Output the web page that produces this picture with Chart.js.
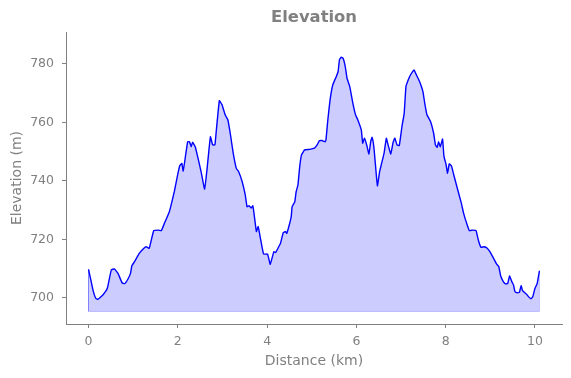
<!DOCTYPE html>
<html>
<head>
<meta charset="utf-8">
<script src="https://cdn.jsdelivr.net/npm/chart.js@4"></script>
<style>
  body { margin: 0; background: #fff; }
</style>
</head>
<body>
<canvas id="elev" width="571" height="378"></canvas>
<script>
// distance along the track (km) and elevation (m)
const dist = [0.00,0.10,0.16,0.21,0.32,0.42,0.51,0.58,0.66,0.75,0.81,0.88,0.94,0.97,1.03,1.14,1.24,1.29,1.36,1.46,
  1.57,1.63,1.70,1.81,1.86,1.92,1.98,2.04,2.09,2.12,2.17,2.22,2.26,2.30,2.33,2.39,2.47,2.52,2.60,2.66,
  2.73,2.78,2.83,2.86,2.93,2.99,3.06,3.12,3.18,3.24,3.31,3.36,3.44,3.51,3.55,3.60,3.64,3.68,3.71,3.76,
  3.80,3.85,3.92,4.01,4.07,4.15,4.19,4.26,4.30,4.36,4.41,4.44,4.49,4.54,4.56,4.62,4.65,4.69,4.73,4.77,
  4.84,4.95,5.06,5.12,5.17,5.23,5.30,5.32,5.36,5.41,5.47,5.55,5.59,5.62,5.66,5.70,5.75,5.79,5.85,5.92,
  5.98,6.03,6.11,6.14,6.18,6.23,6.28,6.32,6.35,6.39,6.43,6.47,6.52,6.55,6.62,6.67,6.71,6.77,6.82,6.86,
  6.91,6.96,7.02,7.07,7.11,7.16,7.21,7.29,7.32,7.38,7.43,7.49,7.53,7.58,7.66,7.73,7.77,7.81,7.84,7.88,
  7.93,7.96,8.01,8.04,8.08,8.13,8.18,8.26,8.35,8.40,8.47,8.53,8.61,8.68,8.73,8.79,8.86,8.93,8.99,9.07,
  9.14,9.19,9.23,9.29,9.34,9.39,9.43,9.48,9.52,9.55,9.60,9.65,9.69,9.72,9.80,9.87,9.91,9.95,10.00,10.05,10.10];
const elev = [709.8,702.7,699.9,699.5,701.0,703.3,709.6,709.9,708.4,705.2,704.9,706.4,708.4,711.0,712.4,715.3,717.0,717.5,717.0,723.0,
  723.2,723.0,725.5,729.5,732.4,736.3,740.9,745.1,746.0,743.4,748.3,753.4,753.4,751.7,753.2,751.7,746.6,743.2,737.2,744.9,
  755.1,752.3,752.3,756.9,767.4,766.0,762.6,760.9,755.7,749.5,744.3,743.2,739.8,735.2,731.2,731.5,730.7,731.5,728.4,722.7,
  724.4,720.4,715.0,715.0,711.5,715.8,715.5,717.5,718.7,722.3,722.7,722.1,724.6,727.8,731.2,732.9,736.3,738.6,744.9,748.9,
  750.6,750.8,751.2,752.3,753.7,753.8,753.4,754.3,760.9,767.7,772.8,775.7,777.4,781.4,782.3,782.0,779.1,775.1,772.3,766.6,
  762.6,760.9,757.4,752.9,754.6,752.3,749.2,753.4,754.9,751.7,744.9,738.3,743.2,745.1,749.5,754.6,752.3,749.2,753.1,754.6,
  752.3,752.1,758.6,763.1,772.3,774.5,776.2,777.9,777.0,775.1,773.4,770.5,766.6,762.6,760.3,756.3,752.3,751.5,753.4,751.7,
  754.3,748.5,745.5,742.6,745.8,745.1,742.1,737.5,732.4,729.0,725.5,723.0,723.2,723.0,719.8,717.3,717.5,717.0,715.8,713.6,
  711.6,710.7,707.6,705.6,704.8,705.0,707.5,705.6,704.4,702.2,701.8,701.9,704.2,702.5,701.4,700.2,699.7,700.4,703.3,705.0,709.3];
const base = 695.4;   // floor of the shaded area
const xTicks = [0, 2, 4, 6, 8, 10];
const yTicks = [700, 720, 740, 760, 780];

const grey = '#808080';
const font = 'DejaVu Sans';

const pts = dist.map((d, i) => ({x: d, y: elev[i]}));
const last = dist.length - 1;
const edge = [
  {x: dist[0], y: elev[0]}, {x: dist[0], y: base},
  {x: dist[last], y: base}, {x: dist[last], y: elev[last]}
];

new Chart(document.getElementById('elev'), {
  type: 'line',
  data: {
    datasets: [{
      data: pts,
      borderColor: '#0000ff',
      borderWidth: 1.4,
      backgroundColor: 'rgba(0,0,255,0.2)',
      fill: {value: base},
      pointRadius: 0,
      tension: 0.1
    }, {
      // outline of the shaded area
      data: edge,
      borderColor: 'rgba(0,0,255,0.2)',
      borderWidth: 1,
      fill: false,
      pointRadius: 0
    }]
  },
  options: {
    responsive: false,
    devicePixelRatio: 1,
    animation: false,
    layout: {padding: {left: 5, right: 9, top: 0, bottom: 4}},
    plugins: {legend: {display: false}, tooltip: {enabled: false}},
    scales: {
      x: {
        type: 'linear',
        min: -0.505, max: 10.605,
        afterBuildTicks: s => { s.ticks = xTicks.map(v => ({value: v})); },
        afterFit: s => { s.height = 50; },
        border: {display: true, color: grey, width: 1},
        grid: {display: true, drawOnChartArea: false, drawTicks: true, tickLength: 4, color: grey},
        ticks: {color: grey, padding: 6, font: {family: font, size: 12.5}},
        title: {display: true, text: 'Distance (km)', color: grey,
                font: {family: font, size: 14}, padding: {top: 3, bottom: 4}}
      },
      top: {
        type: 'linear',
        position: 'top',
        afterFit: s => { s.height = 32; },
        grid: {display: false},
        border: {display: false},
        ticks: {display: false},
        title: {display: true, text: 'Elevation', color: grey,
                font: {family: font, size: 16.4, weight: 'bold'}, padding: {top: 8, bottom: 4}}
      },
      y: {
        min: 691.1, max: 790.9,
        afterBuildTicks: s => { s.ticks = yTicks.map(v => ({value: v})); },
        afterFit: s => { s.width = 61; },
        border: {display: true, color: grey, width: 1},
        grid: {display: true, drawOnChartArea: false, drawTicks: true, tickLength: 4, color: grey},
        ticks: {color: grey, padding: 8, font: {family: font, size: 12.5}},
        title: {display: true, text: 'Elevation (m)', color: grey,
                font: {family: font, size: 14}, padding: {top: 4, bottom: 4}}
      }
    }
  }
});
</script>
</body>
</html>
